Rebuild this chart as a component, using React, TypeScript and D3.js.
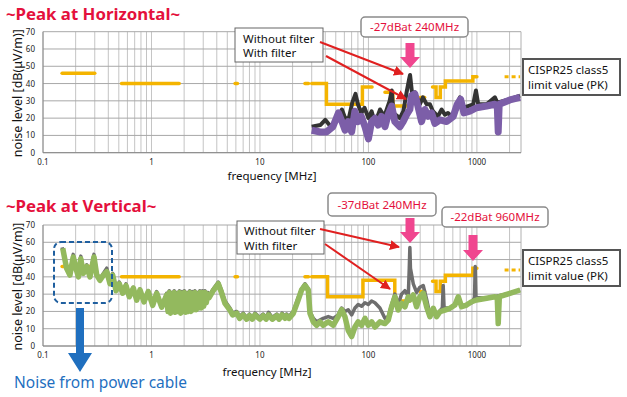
import * as d3 from "d3";

// frequency [MHz], level [dBuV/m]
const xTicks = [0.1, 1, 10, 100, 1000];
const xTickLabels = ["0.1", "1", "10", "100", "1000"];
const yTicks = [0, 10, 20, 30, 40, 50, 60, 70];

const limitTop: [number, number][][] = [
  [[0.15, 46], [0.3, 46]],
  [[0.53, 40], [1.8, 40]],
  [[5.9, 40], [6.2, 40]],
  [[26, 40], [28, 40]],
  [[30, 40], [41, 40], [41, 28], [88, 28], [88, 38], [108, 38]],
  [[142, 35], [168, 35], [168, 27], [241, 27]],
  [[300, 32], [330, 32]],
  [[390, 38], [420, 38], [420, 32], [460, 32], [460, 38], [512, 38], [512, 41.5], [918, 41.5], [918, 44], [1000, 44]],
  [[1447, 28], [1494, 28]],
];
const limitBottom: [number, number][][] = [
  [[0.15, 46], [0.3, 46]],
  [[0.53, 40], [1.8, 40]],
  [[5.9, 40], [6.2, 40]],
  [[26, 40], [28, 40]],
  [[30, 40], [42, 40], [42, 28.5], [89, 28.5], [89, 38], [175, 38], [175, 26], [241, 26]],
  [[300, 31.5], [330, 31.5]],
  [[390, 37.5], [420, 37.5], [420, 31.5], [460, 31.5], [460, 37.5], [512, 37.5], [512, 41], [918, 41], [918, 45], [1000, 45]],
  [[1447, 28], [1494, 28]],
];
const limitDashed: [number, number][] = [[1800, 44], [2500, 44]];

const horizWithout: [number, number][] = [
  [30, 15], [36, 16], [40, 19], [45, 15], [53, 21], [57, 25], [61, 20], [66, 20], [71, 29], [76, 34],
  [80, 28], [86, 23], [92, 26], [100, 20], [107, 24], [115, 17], [128, 25], [140, 21], [157, 30], [164, 36],
  [170, 23], [195, 20], [210, 24], [225, 35], [238, 43], [242, 45], [257, 30], [268, 35], [298, 28], [318, 32],
  [344, 28], [369, 28], [393, 24], [437, 21], [473, 25], [507, 22], [541, 23], [585, 21], [650, 25], [697, 32],
  [748, 26], [832, 27], [925, 28], [980, 36], [1028, 28], [1228, 28], [1465, 32], [1540, 29], [2014, 31], [2500, 33],
];
const horizWith: [number, number][] = [
  [30, 13], [36, 12], [41, 12], [47, 15], [53, 23], [57, 18], [61, 13], [65, 18], [70, 12], [75, 24],
  [80, 18], [86, 21], [93, 15], [100, 8], [107, 18], [115, 20], [123, 16], [132, 21], [142, 15], [152, 22],
  [164, 27], [175, 18], [195, 15], [209, 18], [225, 22], [241, 25], [250, 33], [268, 34], [288, 26], [309, 18],
  [332, 25], [356, 21], [382, 23], [410, 17], [456, 19], [526, 18], [605, 21], [658, 28], [707, 31], [759, 23],
  [861, 24], [993, 26], [1228, 27], [1465, 28], [1540, 27.5], [1572, 12], [1605, 28], [2014, 30.5], [2500, 32],
];

const vertWithout: [number, number][] = [
  [0.15, 57], [0.165, 46], [0.177, 42], [0.19, 53], [0.201, 46], [0.212, 41], [0.223, 52], [0.235, 43], [0.253, 47], [0.271, 41],
  [0.295, 53], [0.313, 42], [0.335, 39], [0.36, 42], [0.387, 45], [0.415, 37], [0.439, 42], [0.471, 33], [0.505, 37], [0.543, 31],
  [0.582, 36], [0.624, 29], [0.68, 34], [0.731, 27], [0.784, 33], [0.853, 26], [0.934, 32], [1.026, 24], [1.117, 31.5], [1.242, 23],
  [1.38, 30.5], [1.42, 21], [1.46, 32], [1.5, 20], [1.54, 31], [1.58, 21], [1.62, 32], [1.66, 20.5], [1.71, 31], [1.76, 21],
  [1.81, 32], [1.86, 20], [1.91, 31.5], [1.96, 21], [2.01, 32], [2.07, 20.5], [2.13, 31], [2.19, 21], [2.25, 32], [2.31, 21],
  [2.37, 31.5], [2.44, 22], [2.51, 32], [2.58, 22], [2.65, 31], [2.72, 23], [2.79, 32], [2.87, 23], [2.95, 32], [3.03, 24],
  [3.11, 32], [3.2, 26], [3.3, 31], [3.4, 29], [3.71, 33], [4.13, 37],
  [4.44, 32], [4.76, 26], [5.29, 22], [5.6, 19], [6.1, 20], [6.5, 17], [7, 19], [7.54, 16.5], [8, 18.5], [8.5, 16.5],
  [9, 19], [10, 16.5], [10.7, 18.5], [11.4, 16.5], [12, 19.5], [13, 16.5], [14.3, 18.5], [15, 16.5], [16, 19], [17, 17],
  [17.6, 18.5], [18.5, 17], [20.3, 20], [22.5, 28], [24.2, 33], [26, 36], [27.9, 33], [28.9, 20], [31, 16], [33.3, 14], [35.7, 15],
  [38.3, 16], [42.6, 17], [47.4, 16], [52.7, 18], [56.6, 22], [60.7, 20], [65.1, 21], [70, 18], [75.1, 22], [80.5, 24],
  [86.5, 23], [92.9, 25], [99.6, 24], [107, 26], [114.8, 25], [127.6, 22], [141.9, 16], [152.3, 17], [163.6, 24], [175.4, 30],
  [188, 24], [202, 30], [217, 32], [233, 29], [238, 45], [241, 57], [244, 45], [259, 36], [278, 31], [298, 34],
  [320, 35], [344, 27], [369, 18], [396, 22], [425, 18], [480, 22], [489, 35], [498, 22], [564, 22], [627, 24],
  [673, 28], [723, 23], [803, 24], [893, 25], [950, 28], [965, 46], [980, 28], [1228, 27.6], [1465, 28.5], [2014, 30.5], [2500, 32.4],
];
const vertWith: [number, number][] = [
  [0.152, 56.5], [0.165, 45], [0.177, 41], [0.19, 51.5], [0.201, 45], [0.212, 40], [0.223, 50.5], [0.235, 42], [0.253, 46], [0.271, 40],
  [0.295, 51.5], [0.313, 41], [0.335, 38], [0.36, 41], [0.387, 43], [0.415, 36], [0.439, 41], [0.471, 32], [0.505, 36], [0.543, 30.5],
  [0.582, 35], [0.624, 28.5], [0.68, 33.5], [0.731, 26.5], [0.784, 32.5], [0.853, 25.5], [0.934, 31.5], [1.026, 23.5], [1.117, 30.5], [1.242, 22.5],
  [1.38, 29.5], [1.42, 20], [1.46, 31], [1.5, 19], [1.54, 30], [1.58, 20], [1.62, 31], [1.66, 19.5], [1.71, 30], [1.76, 20],
  [1.81, 31], [1.86, 19], [1.91, 30.5], [1.96, 20], [2.01, 31], [2.07, 19.5], [2.13, 30], [2.19, 20], [2.25, 31], [2.31, 20],
  [2.37, 30.5], [2.44, 21], [2.51, 31], [2.58, 21], [2.65, 30], [2.72, 22], [2.79, 31], [2.87, 22], [2.95, 31], [3.03, 23],
  [3.11, 31], [3.2, 25], [3.3, 30], [3.4, 28], [3.71, 32], [4.13, 36],
  [4.44, 30.5], [4.76, 24.7], [5.29, 20.8], [5.6, 18], [6.1, 19], [6.5, 16], [7, 18], [7.54, 15.5], [8, 17.5], [8.5, 15.5],
  [9, 18], [10, 15.5], [10.7, 17.5], [11.4, 15.5], [12, 18], [13, 15.5], [14.3, 17.5], [15, 15.5], [16, 18], [17, 16],
  [17.6, 17.5], [18.5, 16], [20.3, 18.9], [22.5, 26.6], [24.2, 32.4], [26, 35], [27.9, 32.4], [28.9, 19], [31, 14], [33.3, 12], [35.7, 14],
  [38.3, 12], [42.6, 14], [47.4, 12], [52.7, 17], [56.6, 21], [60.7, 17], [65.1, 9], [70, 5.5], [75.1, 11], [80.5, 14],
  [86.5, 12], [92.9, 16], [99.6, 12], [107, 14], [114.8, 11], [127.6, 14], [141.9, 13], [152.3, 15], [163.6, 22.7], [175.4, 28.5],
  [188, 20.8], [202, 24.7], [217, 22.7], [233, 28.5], [241, 26.6], [259, 29.5], [278, 22.7], [298, 28.5], [320, 30.5], [344, 22.7],
  [369, 17], [396, 21.8], [425, 17], [456, 19.8], [507, 20.8], [564, 21.8], [627, 23.7], [673, 28.5], [723, 22.7], [803, 23.7],
  [893, 25.6], [993, 26.6], [1228, 27.6], [1465, 28.5], [1540, 28], [1572, 13], [1610, 28.5], [2014, 30.5], [2500, 32.4],
];

const FONT = "'Noto Sans', 'Open Sans', sans-serif";
const RED = "#e4103c";
const PINK = "#f0468f";
const BLUE = "#1f6fbf";
const YELLOW = "#f4b400";

const x = d3.scaleLog().domain([0.1, 2550]).range([43, 521]);

const minorFreqs: number[] = [];
[0.1, 1, 10, 100, 1000].forEach((d) => {
  for (let k = 1; k <= 9; k++) if (d * k <= 2550) minorFreqs.push(d * k);
});

function PinkArrow({ cx, y0, y1 }: { cx: number; y0: number; y1: number }) {
  const hh = 11;
  const p = `M${cx - 4.5},${y0} L${cx + 4.5},${y0} L${cx + 4.5},${y1 - hh} L${cx + 10},${y1 - hh} L${cx},${y1} L${cx - 10},${y1 - hh} L${cx - 4.5},${y1 - hh} Z`;
  return <path d={p} fill={PINK} />;
}

function Panel({
  top, bottom, title, titleY, limit, without, withF, withoutColor, withColor, withoutW, withW, labelY,
}: any) {
  const y = d3.scaleLinear().domain([0, 70]).range([bottom, top]);
  const line = d3.line<[number, number]>().x((d) => x(d[0])).y((d) => y(d[1]));
  const id = `clip${Math.round(top)}`;
  return (
    <g>
      <text x={6} y={titleY} fontSize={16.8} fontWeight="bold" fill={RED} fontFamily={FONT}>{title}</text>
      <clipPath id={id}>
        <rect x={43} y={top - 2} width={478} height={bottom - top + 2} />
      </clipPath>
      <rect x={43} y={top} width={478} height={bottom - top} fill="#fff" />
      {minorFreqs.map((f) => (
        <line key={f} x1={x(f)} x2={x(f)} y1={top} y2={bottom} stroke="#c4c4c4" strokeWidth={1} />
      ))}
      {yTicks.map((t) => (
        <line key={t} x1={43} x2={521} y1={y(t)} y2={y(t)} stroke="#a8a8a8" strokeWidth={1} />
      ))}
      <line x1={521} x2={521} y1={top} y2={bottom} stroke="#b0b0b0" />
      <line x1={43} x2={43} y1={top} y2={bottom} stroke="#888" />
      <line x1={43} x2={521} y1={bottom} y2={bottom} stroke="#888" />
      {yTicks.map((t) => (
        <text key={t} x={35} y={y(t) + 3} fontSize={8} textAnchor="end" fill="#222" fontFamily={FONT}>{t}</text>
      ))}
      {xTicks.map((t, i) => (
        <text key={t} x={x(t)} y={bottom + 12} fontSize={8} textAnchor="middle" fill="#222" fontFamily={FONT}>{xTickLabels[i]}</text>
      ))}
      <text x={0} y={0} transform={`translate(22,${(top + bottom) / 2 + 1}) rotate(-90)`} fontSize={12.5} textAnchor="middle" fill="#111" fontFamily={FONT}>noise level [dB(μV/m)]</text>
      <text x={labelY[0]} y={labelY[1]} fontSize={11.5} textAnchor="middle" fill="#111" fontFamily={FONT}>frequency [MHz]</text>
      <g clipPath={`url(#${id})`}>
        {limit.map((seg: [number, number][], i: number) => (
          <path key={i} d={line(seg) || ""} fill="none" stroke={YELLOW} strokeWidth={3.5} strokeLinecap="round" />
        ))}
        <path d={line(limitDashed) || ""} fill="none" stroke={YELLOW} strokeWidth={3} strokeDasharray="4 3" />
        <path d={line(without) || ""} fill="none" stroke={withoutColor} strokeWidth={withoutW} strokeLinejoin="round" />
        <path d={line(withF) || ""} fill="none" stroke={withColor} strokeWidth={withW} strokeLinejoin="round" />
      </g>
    </g>
  );
}

export default function App() {
  return (
    <svg width={627} height={397} style={{ position: "fixed", left: 0, top: 0, background: "#fff" }}>
      <defs>
        <marker id="redhead" viewBox="0 0 10 10" refX={9} refY={5} markerWidth={5} markerHeight={5} orient="auto">
          <path d="M0,0 L10,5 L0,10 Z" fill="#e02020" />
        </marker>
      </defs>
      <rect width={627} height={397} fill="#fff" />
      <Panel
        top={31.7} bottom={152.7} title="~Peak at Horizontal~" titleY={20}
        limit={limitTop} without={horizWithout} withF={horizWith}
        withoutColor="#333" withColor="#7c5ea8" withoutW={4} withW={7}
        labelY={[272, 180]}
      />
      <Panel
        top={225} bottom={346} title="~Peak at Vertical~" titleY={212}
        limit={limitBottom} without={vertWithout} withF={vertWith}
        withoutColor="#6e6e6e" withColor="#93b95e" withoutW={3.5} withW={5.5}
        labelY={[267, 376]}
      />

      {/* legend boxes + red arrows, top */}
      <rect x={235} y={28} width={88} height={34} fill="#fff" stroke="#666" strokeWidth={1} />
      <text x={243} y={43} fontSize={11.5} fontFamily={FONT} fill="#111">Without filter</text>
      <text x={243} y={57} fontSize={11.5} fontFamily={FONT} fill="#111">With filter</text>
      <line x1={320} y1={42} x2={403} y2={74} stroke="#e02020" strokeWidth={2} markerEnd="url(#redhead)" />
      <line x1={326} y1={56} x2={406} y2={99} stroke="#e02020" strokeWidth={2} markerEnd="url(#redhead)" />

      {/* legend boxes + red arrows, bottom */}
      <rect x={237} y={221} width={87} height={33} fill="#fff" stroke="#666" strokeWidth={1} />
      <text x={244} y={235} fontSize={11.5} fontFamily={FONT} fill="#111">Without filter</text>
      <text x={244} y={250} fontSize={11.5} fontFamily={FONT} fill="#111">With filter</text>
      <line x1={320} y1={229} x2={399} y2={247} stroke="#e02020" strokeWidth={2} markerEnd="url(#redhead)" />
      <line x1={325} y1={244} x2={390} y2={289} stroke="#e02020" strokeWidth={2} markerEnd="url(#redhead)" />

      {/* peak annotations */}
      <rect x={361} y={17} width={107} height={20} rx={4} fill="#fff" stroke="#8a8a8a" strokeWidth={1.5} />
      <text x={414.5} y={31} fontSize={11.5} textAnchor="middle" fontFamily={FONT} fill={RED}>-27dBat 240MHz</text>
      <PinkArrow cx={410} y0={43} y1={68} />

      <rect x={328} y={193} width={108} height={23} rx={4} fill="#fff" stroke="#8a8a8a" strokeWidth={1.5} />
      <text x={382} y={208.5} fontSize={11.5} textAnchor="middle" fontFamily={FONT} fill={RED}>-37dBat 240MHz</text>
      <PinkArrow cx={410} y0={218} y1={243} />

      <rect x={442} y={207} width={106} height={20} rx={4} fill="#fff" stroke="#8a8a8a" strokeWidth={1.5} />
      <text x={495} y={221} fontSize={11.5} textAnchor="middle" fontFamily={FONT} fill={RED}>-22dBat 960MHz</text>
      <PinkArrow cx={473} y0={235} y1={261} />

      {/* CISPR boxes */}
      <rect x={523} y={59} width={97} height={36} fill="#fff" stroke="#555" strokeWidth={2} />
      <text x={528} y={74} fontSize={11.5} fontFamily={FONT} fill="#111">CISPR25 class5</text>
      <text x={528} y={89} fontSize={11.5} fontFamily={FONT} fill="#111">limit value (PK)</text>
      <rect x={523} y={250} width={97} height={36} fill="#fff" stroke="#555" strokeWidth={2} />
      <text x={528} y={265} fontSize={11.5} fontFamily={FONT} fill="#111">CISPR25 class5</text>
      <text x={528} y={280} fontSize={11.5} fontFamily={FONT} fill="#111">limit value (PK)</text>

      {/* power cable noise callout */}
      <rect x={54} y={242} width={58} height={61} rx={7} fill="none" stroke="#1f5f9f" strokeWidth={2} strokeDasharray="5 3" />
      <path d="M76,308 L84,308 L84,353 L92,353 L80,372 L68,353 L76,353 Z" fill={BLUE} />
      <text x={14} y={388} fontSize={15.5} fontFamily={FONT} fill={BLUE}>Noise from power cable</text>
    </svg>
  );
}
